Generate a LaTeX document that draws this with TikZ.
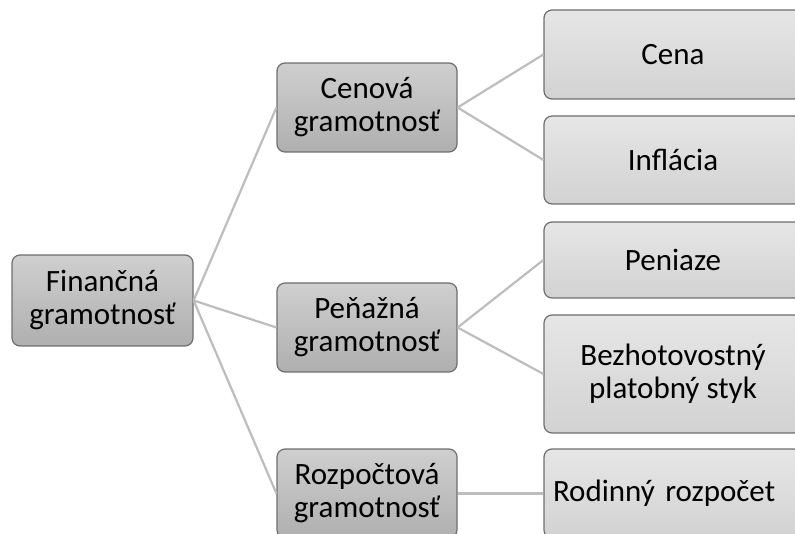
\documentclass[tikz,border=0pt]{standalone}
\usepackage{fontspec}
\setmainfont{Carlito}
\usepackage{tikz}

\definecolor{boxline}{HTML}{6E6E6E}
\definecolor{linegray}{HTML}{BDBDBD}
\definecolor{darktop}{HTML}{CFCFCF}
\definecolor{darkbot}{HTML}{AFAFAF}
\definecolor{lighttop}{HTML}{E6E6E6}
\definecolor{lightbot}{HTML}{D2D2D2}

\begin{document}
\begin{tikzpicture}[x=1pt,y=-1pt,
    box/.style={draw=boxline, line width=1.2pt, rounded corners=8pt, align=center,
        inner sep=0pt, font=\fontsize{31}{33}\selectfont, text=black},
    darkbox/.style={box, top color=darktop, bottom color=darkbot,
        minimum width=180pt, minimum height=89pt},
    lightbox/.style={box, top color=lighttop, bottom color=lightbot, minimum width=258pt},
    link/.style={draw=linegray, line width=2.2pt}]
        \useasboundingbox (0,0) rectangle (795,534);
        \clip (0,0) rectangle (795,534);

        % Root
        \node[darkbox, minimum width=181pt, minimum height=91pt] (fg) at (102.5,300.5) {Finančná\\gramotnosť};

        % Second level
        \node[darkbox] (cg) at (367,107.5) {Cenová\\gramotnosť};
        \node[darkbox] (pg) at (367,327.5) {Peňažná\\gramotnosť};
        \node[darkbox] (rg) at (367,493.5) {Rozpočtová\\gramotnosť};

        % Third level
        \node[lightbox, minimum height=89pt] (cena) at (673,54.5) {Cena};
        \node[lightbox, minimum height=88pt] (infl) at (673,160) {Inflácia};
        \node[lightbox, minimum height=76pt] (pen) at (673,260) {Peniaze};
        \node[lightbox, minimum height=118pt] (bps) at (673,374) {Bezhotovostný\\platobný styk};
        \node[lightbox, minimum height=89pt, align=left, text width=240pt, inner xsep=9pt] (rr) at (673,493.5) {Rodinný rozpočet};

        % Links
        \draw[link] (fg.east) -- (cg.west);
        \draw[link] (fg.east) -- (pg.west);
        \draw[link] (fg.east) -- (rg.west);
        \draw[link] (cg.east) -- (cena.west);
        \draw[link] (cg.east) -- (infl.west);
        \draw[link] (pg.east) -- (pen.west);
        \draw[link] (pg.east) -- (bps.west);
        \draw[link] (rg.east) -- (rr.west);
    \end{tikzpicture}
\end{document}
